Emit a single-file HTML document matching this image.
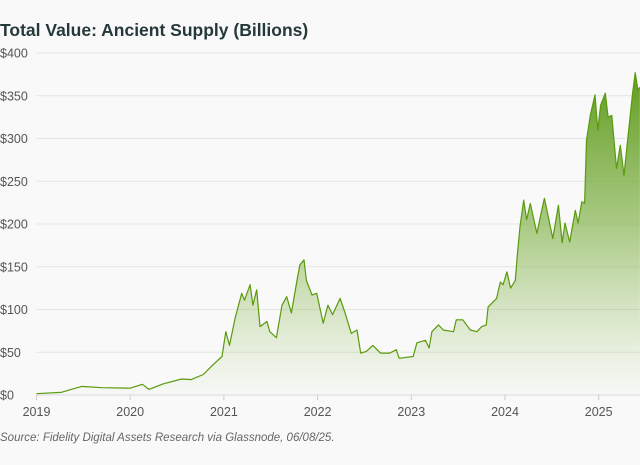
<!DOCTYPE html>
<html><head><meta charset="utf-8"><style>
html,body{margin:0;padding:0;background:#f9f9f9;}
svg{display:block;font-family:"Liberation Sans",sans-serif;}
</style></head><body>
<svg id="chart" width="640" height="465">
<defs>
<linearGradient id="fillGrad" gradientUnits="userSpaceOnUse" x1="0" y1="53" x2="0" y2="395">
<stop offset="0" stop-color="#559510" stop-opacity="1"/>
<stop offset="0.5" stop-color="#78ac3a" stop-opacity="0.62"/>
<stop offset="1" stop-color="#9cc46a" stop-opacity="0.02"/>
</linearGradient>
</defs>
<text x="0" y="36" font-size="17.5" font-weight="bold" fill="#26393a">Total Value: Ancient Supply (Billions)</text>
<g id="grid"></g>
<g id="yticks"></g>
<g id="xticks"></g>
<path id="area" fill="url(#fillGrad)"></path>
<path id="line" fill="none" stroke="#5a9a0c" stroke-width="1.2" stroke-linejoin="round"></path>
<text x="0" y="441" font-size="11.5" font-style="italic" fill="#666">Source: Fidelity Digital Assets Research via Glassnode, 06/08/25.</text>
</svg>
<script>
const years = [2019.0,2019.26,2019.48,2019.7,2020.0,2020.13,2020.2,2020.35,2020.55,2020.65,2020.78,2020.88,2020.98,2021.02,2021.06,2021.12,2021.19,2021.22,2021.28,2021.31,2021.35,2021.385,2021.46,2021.49,2021.56,2021.62,2021.67,2021.72,2021.78,2021.81,2021.855,2021.88,2021.94,2021.99,2022.06,2022.11,2022.16,2022.24,2022.29,2022.36,2022.42,2022.46,2022.52,2022.59,2022.67,2022.77,2022.84,2022.87,2022.88,2023.02,2023.06,2023.15,2023.19,2023.22,2023.29,2023.34,2023.45,2023.48,2023.55,2023.63,2023.70,2023.75,2023.80,2023.82,2023.91,2023.95,2023.98,2024.02,2024.06,2024.11,2024.13,2024.16,2024.20,2024.23,2024.27,2024.34,2024.37,2024.42,2024.51,2024.57,2024.61,2024.64,2024.69,2024.75,2024.78,2024.82,2024.85,2024.87,2024.91,2024.96,2024.99,2025.02,2025.07,2025.10,2025.14,2025.19,2025.23,2025.27,2025.32,2025.36,2025.39,2025.42,2025.44];
const values = [1.5,3,10,8.5,8,12.5,6.6,13,18.7,18,24,35,45,74,58,90,119,111,129,105,123,80,86,74,67,105,115,96,134,152,158,134,117,119,84,105,94,113,97,72,76,49,51,58,49,49,53,43,43,45,61,64,55,74,82,76,74,88,88,76,74,80,82,103,113,132,129,144,125,134,162,197,228,205,224,189,205,230,183,222,178,201,179,216,201,226,224,298,327,351,310,339,353,325,327,265,292,257,310,351,377,356,360];
const yTicks = [0,50,100,150,200,250,300,350,400];
const xTicks = [2019,2020,2021,2022,2023,2024,2025];
const x = v => 36.5 + (v-2019)*93.7;
const y = v => 395 - v*342/400;
const NS="http://www.w3.org/2000/svg";
const grid=document.getElementById('grid'), yt=document.getElementById('yticks'), xt=document.getElementById('xticks');
yTicks.forEach(t=>{
  const l=document.createElementNS(NS,'line');
  l.setAttribute('x1',36);l.setAttribute('x2',640);l.setAttribute('y1',y(t));l.setAttribute('y2',y(t));
  l.setAttribute('stroke', t===0?'#d8d8e4':'#e6e6e6');l.setAttribute('stroke-width',1);
  
  
  grid.appendChild(l);
  const tx=document.createElementNS(NS,'text');
  tx.setAttribute('x',0);tx.setAttribute('y',y(t)+4.5);tx.setAttribute('font-size','12.5');tx.setAttribute('fill','#555');
  tx.textContent='$'+t;
  
  
  yt.appendChild(tx);
});
xTicks.forEach(t=>{
  const l=document.createElementNS(NS,'line');
  l.setAttribute('x1',x(t));l.setAttribute('x2',x(t));l.setAttribute('y1',395);l.setAttribute('y2',400);
  l.setAttribute('stroke','#ccc');
  
  
  xt.appendChild(l);
  const tx=document.createElementNS(NS,'text');
  tx.setAttribute('x',x(t));tx.setAttribute('y',416);tx.setAttribute('font-size','12.5');tx.setAttribute('fill','#555');tx.setAttribute('text-anchor','middle');
  tx.textContent=t;
  
  
  xt.appendChild(tx);
});
let d='';
years.forEach((yr,i)=>{d+=(i?'L':'M')+x(yr).toFixed(1)+','+y(values[i]).toFixed(1);});
document.getElementById('line').setAttribute('d',d);
document.getElementById('area').setAttribute('d',d+'L'+x(years[years.length-1]).toFixed(1)+',395L'+x(years[0]).toFixed(1)+',395Z');
</script>
</body></html>
